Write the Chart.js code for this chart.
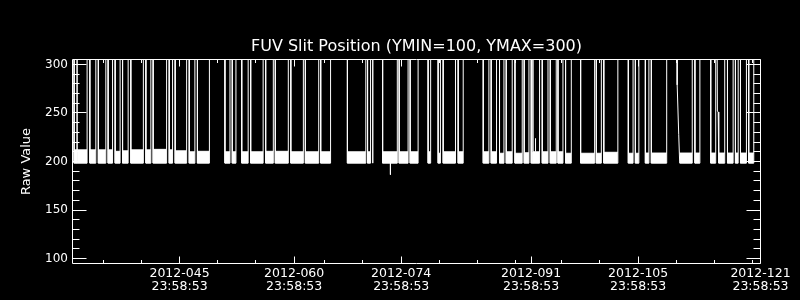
<!DOCTYPE html>
<html><head><meta charset="utf-8">
<script src="https://cdn.jsdelivr.net/npm/chart.js@4"></script>
<style>html,body{margin:0;padding:0;background:#000;}canvas{display:block;}</style>
</head><body>
<canvas id="c" width="800" height="300"></canvas>
<script>
// ---------- data ----------
const chartTitle = 'FUV Slit Position (YMIN=100, YMAX=300)';
const yAxisTitle = 'Raw Value';
const xRange = [31, 121];            // day of year (2012), at 23:58:53
const yRange = [94.85, 305.15];
const xMajorTicks = [45, 60, 74, 91, 105, 121];
const xTickLabels = [
  ['2012-045', '23:58:53'], ['2012-060', '23:58:53'], ['2012-074', '23:58:53'],
  ['2012-091', '23:58:53'], ['2012-105', '23:58:53'], ['2012-121', '23:58:53']
];
const xMinorTicks = [35, 40, 50, 55, 64, 69, 79, 84, 89, 95, 100, 110, 115, 120];
const yMajorTicks = [100, 150, 200, 250, 300];
const yMinorTicks = [110, 120, 130, 140, 160, 170, 180, 190, 210, 220, 230, 240, 260, 270, 280, 290];

// intervals where the slit sits at its low position (~198-212), otherwise off-scale high
const segStart = [31.21, 31.60, 33.27, 34.38, 35.66, 36.58, 37.55, 38.63, 40.60, 41.55,
  43.65, 44.43, 46.27, 47.34, 50.94, 51.90, 53.14, 54.31, 56.27, 57.53,
  59.56, 61.46, 63.47, 66.96, 69.60, 70.28, 71.57, 73.73, 75.17, 77.52,
  78.83, 79.49, 81.45, 84.73, 85.77, 86.86, 87.74, 88.88, 90.09, 91.01,
  91.23, 92.45, 93.50, 94.51, 95.50, 97.47, 99.52, 100.50, 103.71, 104.63,
  105.94, 106.72, 110.43, 112.42, 114.49, 115.54, 116.68, 117.72, 118.38, 119.46];
const segEnd = [31.60, 32.91, 34.05, 35.36, 36.24, 37.23, 38.28, 40.27, 41.25, 43.31,
  44.09, 45.93, 47.01, 48.91, 51.60, 52.38, 53.98, 55.94, 57.27, 59.23,
  61.20, 63.21, 64.76, 69.37, 69.99, 70.28, 73.49, 74.90, 76.21, 77.85,
  79.13, 81.10, 82.11, 85.47, 86.47, 87.44, 88.52, 89.83, 90.71, 91.23,
  92.10, 93.20, 94.28, 95.16, 96.25, 99.30, 100.18, 102.34, 104.33, 105.09,
  106.40, 108.73, 112.07, 113.07, 115.14, 116.32, 117.42, 118.08, 119.16, 120.12];
const segTop = [212, 212, 212, 212, 212, 210.5, 211, 212, 212, 212.5,
  212, 211, 210, 210.5, 210, 210, 210, 210, 210.5, 210.5,
  210, 210, 210, 210, 210, 210, 210, 210, 210, 210,
  208.5, 210, 210, 210, 210, 208.5, 210, 208.5, 209, 209,
  210, 210, 210, 210, 208.5, 208.5, 208.5, 209.5, 208.5, 208.5,
  208.7, 208.7, 208.7, 208.7, 208.7, 208.7, 208.7, 208.7, 208.7, 208.7];
const lowFloor = 198.3;
const offScale = 400;
// gradual descents from off-scale into a low interval
const rampDays = [[110.08, 110.10, 110.30], [115.30, 115.36, 115.46]];
const rampValues = [[400, 279, 228], [400, 252, 251]];
// isolated partial spikes
const spikeDays = [72.59, 91.57];
const spikeBase = [198.3, 210];
const spikeValues = [186.5, 224];

// ---------- build datasets ----------
const signal = [{x: xRange[0], y: offScale}];
const band = [];
let r = 0;
for (let i = 0; i < segStart.length; i++) {
  const s = segStart[i], e = segEnd[i];
  let ramped = false;
  while (r < rampDays.length && rampDays[r][0] < s) {
    rampDays[r].forEach((d, k) => signal.push({x: d, y: rampValues[r][k]}));
    r++; ramped = true;
  }
  if (!ramped) signal.push({x: s, y: offScale});
  signal.push({x: s, y: lowFloor});
  signal.push({x: e, y: lowFloor});
  signal.push({x: e, y: offScale});
  if (e > s) {
    band.push({x: s, y: segTop[i]}, {x: e, y: segTop[i]}, {x: e, y: null});
  }
}
signal.push({x: xRange[1], y: offScale});
const spikes = [];
spikeDays.forEach((d, i) => spikes.push({x: d, y: spikeBase[i]}, {x: d, y: spikeValues[i]}, {x: d, y: null}));

const FONT = 'DejaVu Sans';
const axisPlugin = {
  id: 'idlAxes',
  beforeDraw(chart) {
    const ctx = chart.ctx;
    ctx.save(); ctx.fillStyle = '#000'; ctx.fillRect(0, 0, chart.width, chart.height); ctx.restore();
  },
  afterDraw(chart) {
    const {ctx, chartArea: a, scales: {x, y}} = chart;
    const snap = v => Math.round(v - 0.5) + 0.5;
    ctx.save();
    ctx.strokeStyle = '#fff'; ctx.lineWidth = 1;
    ctx.beginPath();
    ctx.rect(snap(a.left), snap(a.top), snap(a.right) - snap(a.left), snap(a.bottom) - snap(a.top));
    const L = snap(a.left), R = snap(a.right), T = snap(a.top), B = snap(a.bottom);
    const xt = (v, len) => { const p = snap(x.getPixelForValue(v)); ctx.moveTo(p, B); ctx.lineTo(p, B - len); ctx.moveTo(p, T); ctx.lineTo(p, T + len); };
    const yt = (v, len) => { const p = snap(y.getPixelForValue(v)); ctx.moveTo(L, p); ctx.lineTo(L + len, p); ctx.moveTo(R, p); ctx.lineTo(R - len, p); };
    xMajorTicks.forEach(v => xt(v, 7));
    xMinorTicks.forEach(v => xt(v, 3.5));
    yMajorTicks.forEach(v => yt(v, 14));
    yMinorTicks.forEach(v => yt(v, 7));
    ctx.stroke();
    ctx.restore();
  }
};

new Chart(document.getElementById('c'), {
  type: 'line',
  data: {
    datasets: [
      {label: 'band', data: band, borderColor: '#fff', backgroundColor: '#fff', borderWidth: 1,
        fill: {target: {value: lowFloor}}, pointRadius: 0, tension: 0, spanGaps: false},
      {label: 'signal', data: signal, borderColor: '#fff', borderWidth: 1, fill: false, pointRadius: 0, tension: 0},
      {label: 'spikes', data: spikes, borderColor: '#fff', borderWidth: 1, fill: false, pointRadius: 0, tension: 0, spanGaps: false}
    ]
  },
  options: {
    responsive: false, animation: false, devicePixelRatio: 1,
    layout: {padding: {top: 0, left: 0, right: 39.5, bottom: 0}},
    plugins: {
      legend: {display: false}, tooltip: {enabled: false},
      title: {display: true, text: chartTitle, color: '#fff', fullSize: false,
        font: {family: FONT, size: 16, weight: 'normal'}, padding: {top: 37.6, bottom: 2.7}}
    },
    scales: {
      x: {
        type: 'linear', min: xRange[0], max: xRange[1],
        grid: {display: false, drawTicks: false}, border: {display: false},
        afterBuildTicks: s => { s.ticks = xMajorTicks.map(v => ({value: v})); },
        afterFit: s => { s.height = 36.5; },
        ticks: {color: '#fff', autoSkip: false, maxRotation: 0, minRotation: 0, padding: 3,
          font: {family: FONT, size: 12.5, lineHeight: 1.1},
          callback: (v, i) => xTickLabels[i]}
      },
      y: {
        type: 'linear', min: yRange[0], max: yRange[1],
        grid: {display: false, drawTicks: false}, border: {display: false},
        afterBuildTicks: s => { s.ticks = yMajorTicks.map(v => ({value: v})); },
        afterFit: s => { s.width = 72.5; },
        title: {display: true, text: yAxisTitle, color: '#fff', font: {family: FONT, size: 13}, padding: {top: 19, bottom: 0}},
        ticks: {color: '#fff', padding: 4.5, font: {family: FONT, size: 12}, callback: v => String(v)}
      }
    }
  },
  plugins: [axisPlugin]
});
</script>
</body></html>
